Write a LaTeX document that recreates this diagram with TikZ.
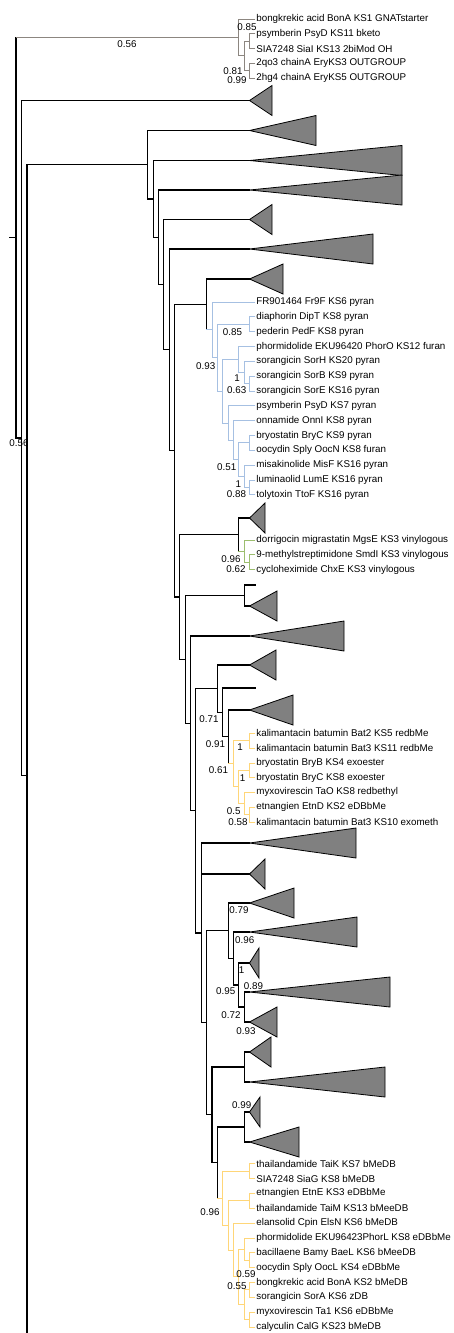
\documentclass[tikz,border=0pt]{standalone}
\usepackage{fontspec}
\setmainfont{Liberation Sans}
\usetikzlibrary{calc}
\definecolor{ogline}{RGB}{140,134,128}
\definecolor{pyranblue}{RGB}{166,192,226}
\definecolor{vinylgreen}{RGB}{156,190,110}
\definecolor{dbyellow}{RGB}{255,214,120}
\definecolor{cladegray}{RGB}{128,128,128}
\tikzset{
  treefig/.style={x=1pt,y=-1pt,line cap=rect,
    every node/.style={font=\fontsize{9.8}{11}\selectfont}},
  leaf/.style={anchor=west,inner xsep=1.2pt,inner ysep=0pt},
  supp/.style={inner sep=0pt},
  branch/.style={draw=black,line width=1.1pt},
  ogbranch/.style={draw=ogline,line width=0.9pt},
  bluebranch/.style={draw=pyranblue,line width=0.9pt},
  greenbranch/.style={draw=vinylgreen,line width=0.9pt},
  yelbranch/.style={draw=dbyellow,line width=0.9pt},
  clade/.style={draw=black,fill=cladegray,line width=0.8pt,line join=miter},
}
\newcommand{\cladetri}[2]{\draw[clade] (#1) -- ++(#2,-15) -- ++(0,30) -- cycle;}

\begin{document}
\begin{tikzpicture}[treefig]
  \useasboundingbox (0,0) rectangle (454,1333);

  % backbone
  \coordinate (root) at (10,237.7);
  \coordinate (nA) at (16,237.7);
  \coordinate (nB) at (21.3,438);
  \coordinate (nC) at (27,775.5);
  \coordinate (cbot) at (27,1333);
  \draw[branch] (root) -- (nA);
  \draw[branch] (nA) |- (nB);
  \draw[branch] (nB) |- (nC);
  \draw[branch] (nC) -- (cbot);

  % outgroup
  \coordinate (og1) at (238.8,37.4);
  \coordinate (og2) at (244.1,55.9);
  \coordinate (ogp1) at (249.5,41.1);
  \coordinate (ogp2) at (249.5,70.6);
  \node[leaf] (bonks1) at (255,19) {bongkrekic acid BonA KS1 GNATstarter};
  \node[leaf] (psyks11) at (255,33.7) {psymberin PsyD KS11 bketo};
  \node[leaf] (siaks13) at (255,48.5) {SIA7248 SiaI KS13 2biMod OH};
  \node[leaf] (eryks3) at (255,63.2) {2qo3 chainA EryKS3 OUTGROUP};
  \node[leaf] (eryks5) at (255,78) {2hg4 chainA EryKS5 OUTGROUP};
  \draw[branch] (nA) -- (nA |- og1);
  \draw[ogbranch] (nA |- og1) -- (og1);
  \draw[ogbranch] (og1) |- (bonks1.west);
  \draw[ogbranch] (og1) |- (og2);
  \draw[ogbranch] (og2) |- (ogp1);
  \draw[ogbranch] (og2) |- (ogp2);
  \draw[ogbranch] (ogp1) |- (psyks11.west);
  \draw[ogbranch] (ogp1) |- (siaks13.west);
  \draw[ogbranch] (ogp2) |- (eryks3.west);
  \draw[ogbranch] (ogp2) |- (eryks5.west);

  % ladder down to the pyran clade
  \coordinate (t0) at (249.5,100.5);
  \coordinate (nD) at (147.8,164.7);
  \coordinate (t1) at (249.5,130.5);
  \coordinate (nE) at (153.1,199);
  \coordinate (t2) at (249.5,160.5);
  \coordinate (nF) at (158.5,237.4);
  \coordinate (t3) at (249.5,190);
  \coordinate (nG) at (163.8,284.7);
  \coordinate (t4) at (249.5,219.5);
  \coordinate (nH) at (169.2,349.9);
  \coordinate (t5) at (249.5,249);
  \coordinate (nI) at (174.5,450.7);
  \coordinate (nJ) at (206.6,304.5);
  \coordinate (t6) at (249.5,279);
  \draw[branch] (nB) |- (t0);
  \draw[branch] (nC) |- (nD);
  \draw[branch] (nD) |- (t1);
  \draw[branch] (nD) |- (nE);
  \draw[branch] (nE) |- (t2);
  \draw[branch] (nE) |- (nF);
  \draw[branch] (nF) |- (t3);
  \draw[branch] (nF) |- (nG);
  \draw[branch] (nG) |- (t4);
  \draw[branch] (nG) |- (nH);
  \draw[branch] (nH) |- (t5);
  \draw[branch] (nH) |- (nI);
  \draw[branch] (nI) |- (nJ);
  \draw[branch] (nJ) |- (t6);

  % pyran clade
  \coordinate (bL) at (212,329.9);
  \coordinate (bM) at (217.4,357.8);
  \coordinate (bY) at (222.7,391.2);
  \coordinate (bDP) at (249.5,324.3);
  \coordinate (bPO) at (238.8,359.5);
  \coordinate (bSH) at (244.1,372.5);
  \coordinate (bSBE) at (249.5,383.6);
  \coordinate (bP) at (228.1,423);
  \coordinate (bQ) at (233.4,440.1);
  \coordinate (bR) at (238.8,459.6);
  \coordinate (bS) at (244.1,476.3);
  \coordinate (bBO) at (249.5,442.9);
  \coordinate (bLT) at (249.5,487.4);
  \node[leaf] (fr9f) at (255,302) {FR901464 Fr9F KS6 pyran};
  \node[leaf] (dipt) at (255,316.8) {diaphorin DipT KS8 pyran};
  \node[leaf] (pedf) at (255,331.7) {pederin PedF KS8 pyran};
  \node[leaf] (phoro) at (255,346.5) {phormidolide EKU96420 PhorO KS12 furan};
  \node[leaf] (sorh) at (255,361.3) {sorangicin SorH KS20 pyran};
  \node[leaf] (sorb) at (255,376.2) {sorangicin SorB KS9 pyran};
  \node[leaf] (sore) at (255,391) {sorangicin SorE KS16 pyran};
  \node[leaf] (psyd) at (255,405.8) {psymberin PsyD KS7 pyran};
  \node[leaf] (onni) at (255,420.6) {onnamide OnnI KS8 pyran};
  \node[leaf] (bryc9) at (255,435.5) {bryostatin BryC KS9 pyran};
  \node[leaf] (oocn) at (255,450.3) {oocydin Sply OocN KS8 furan};
  \node[leaf] (misf) at (255,465.2) {misakinolide MisF KS16 pyran};
  \node[leaf] (lume) at (255,480) {luminaolid LumE KS16 pyran};
  \node[leaf] (ttof) at (255,494.8) {tolytoxin TtoF KS16 pyran};
  \draw[branch] (nJ) -- (nJ |- bL);
  \draw[bluebranch] (nJ |- bL) -- (bL);
  \draw[bluebranch] (bL) |- (fr9f.west);
  \draw[bluebranch] (bL) |- (bM);
  \draw[bluebranch] (bM) |- (bDP);
  \draw[bluebranch] (bM) |- (bY);
  \draw[bluebranch] (bDP) |- (dipt.west);
  \draw[bluebranch] (bDP) |- (pedf.west);
  \draw[bluebranch] (bY) |- (bPO);
  \draw[bluebranch] (bY) |- (bP);
  \draw[bluebranch] (bPO) |- (phoro.west);
  \draw[bluebranch] (bPO) |- (bSH);
  \draw[bluebranch] (bSH) |- (sorh.west);
  \draw[bluebranch] (bSH) |- (bSBE);
  \draw[bluebranch] (bSBE) |- (sorb.west);
  \draw[bluebranch] (bSBE) |- (sore.west);
  \draw[bluebranch] (bP) |- (psyd.west);
  \draw[bluebranch] (bP) |- (bQ);
  \draw[bluebranch] (bQ) |- (onni.west);
  \draw[bluebranch] (bQ) |- (bR);
  \draw[bluebranch] (bR) |- (bBO);
  \draw[bluebranch] (bR) |- (bS);
  \draw[bluebranch] (bBO) |- (bryc9.west);
  \draw[bluebranch] (bBO) |- (oocn.west);
  \draw[bluebranch] (bS) |- (misf.west);
  \draw[bluebranch] (bS) |- (bLT);
  \draw[bluebranch] (bLT) |- (lume.west);
  \draw[bluebranch] (bLT) |- (ttof.west);

  % vinylogous clade and the ladder below it
  \coordinate (nK) at (179.9,597);
  \coordinate (nGR) at (238.8,534.5);
  \coordinate (t7) at (249.5,518);
  \coordinate (gN) at (244.1,551);
  \coordinate (gP) at (249.5,562.1);
  \node[leaf] (mgse) at (255,540) {dorrigocin migrastatin MgsE KS3 vinylogous};
  \node[leaf] (smdi) at (255,554.7) {9-methylstreptimidone SmdI KS3 vinylogous};
  \node[leaf] (chxe) at (255,569.5) {cycloheximide ChxE KS3 vinylogous};
  \draw[branch] (nI) |- (nK);
  \draw[branch] (nK) |- (nGR);
  \draw[branch] (nGR) |- (t7);
  \draw[branch] (nGR) -- (nGR |- gN);
  \draw[greenbranch] (nGR |- gN) -- (gN);
  \draw[greenbranch] (gN) |- (mgse.west);
  \draw[greenbranch] (gN) |- (gP);
  \draw[greenbranch] (gP) |- (smdi.west);
  \draw[greenbranch] (gP) |- (chxe.west);

  \coordinate (nL2) at (185.2,659.5);
  \coordinate (nT8) at (244.1,595.5);
  \coordinate (bare1) at (255,585);
  \coordinate (t8) at (249.5,606);
  \coordinate (nM2) at (190.6,723.4);
  \coordinate (t9) at (249.5,636);
  \coordinate (nN2) at (195.9,810.8);
  \coordinate (nP2) at (217.4,688.7);
  \coordinate (t10) at (249.5,665);
  \coordinate (nQ2) at (222.7,712.4);
  \coordinate (bare2) at (255,688);
  \coordinate (nR2) at (228.1,736.9);
  \coordinate (t11) at (249.5,710);
  \draw[branch] (nK) |- (nL2);
  \draw[branch] (nL2) |- (nT8);
  \draw[branch] (nT8) |- (bare1);
  \draw[branch] (nT8) |- (t8);
  \draw[branch] (nL2) |- (nM2);
  \draw[branch] (nM2) |- (t9);
  \draw[branch] (nM2) |- (nN2);
  \draw[branch] (nN2) |- (nP2);
  \draw[branch] (nP2) |- (t10);
  \draw[branch] (nP2) |- (nQ2);
  \draw[branch] (nQ2) |- (bare2);
  \draw[branch] (nQ2) |- (nR2);
  \draw[branch] (nR2) |- (t11);

  % first reduced clade
  \coordinate (y1) at (233.4,763.7);
  \coordinate (y2) at (238.8,786.8);
  \coordinate (y3) at (244.1,803.4);
  \coordinate (ykal) at (249.5,740.5);
  \coordinate (ybry) at (249.5,770.2);
  \coordinate (yetn) at (249.5,814.5);
  \node[leaf] (bat2) at (255,733) {kalimantacin batumin Bat2 KS5 redbMe};
  \node[leaf] (bat3a) at (255,748) {kalimantacin batumin Bat3 KS11 redbMe};
  \node[leaf] (bryb) at (255,763) {bryostatin BryB KS4 exoester};
  \node[leaf] (bryc8) at (255,777.5) {bryostatin BryC KS8 exoester};
  \node[leaf] (tao) at (255,792.3) {myxovirescin TaO KS8 redbethyl};
  \node[leaf] (etnd) at (255,807) {etnangien EtnD KS2 eDBbMe};
  \node[leaf] (bat3b) at (255,822) {kalimantacin batumin Bat3 KS10 exometh};
  \draw[branch] (nR2) -- (nR2 |- y1);
  \draw[yelbranch] (nR2 |- y1) -- (y1);
  \draw[yelbranch] (y1) |- (ykal);
  \draw[yelbranch] (y1) |- (y2);
  \draw[yelbranch] (ykal) |- (bat2.west);
  \draw[yelbranch] (ykal) |- (bat3a.west);
  \draw[yelbranch] (y2) |- (ybry);
  \draw[yelbranch] (y2) |- (y3);
  \draw[yelbranch] (ybry) |- (bryb.west);
  \draw[yelbranch] (ybry) |- (bryc8.west);
  \draw[yelbranch] (y3) |- (tao.west);
  \draw[yelbranch] (y3) |- (yetn);
  \draw[yelbranch] (yetn) |- (etnd.west);
  \draw[yelbranch] (yetn) |- (bat3b.west);

  % lower ladder
  \coordinate (nS2) at (201.3,933);
  \coordinate (t12) at (249.5,843);
  \coordinate (t13) at (249.5,874);
  \coordinate (nU) at (206.6,1022.8);
  \coordinate (nV) at (228.1,930.8);
  \coordinate (t14) at (249.5,903);
  \coordinate (nV2) at (233.4,958.5);
  \coordinate (t15) at (249.5,932);
  \coordinate (nV3) at (238.8,985);
  \coordinate (t16) at (249.5,963);
  \coordinate (nV4) at (244.1,1007);
  \coordinate (t17) at (249.5,992);
  \coordinate (t18) at (249.5,1022);
  \coordinate (nX3) at (212,1114.8);
  \coordinate (nX1) at (244.1,1067);
  \coordinate (t19) at (249.5,1052);
  \coordinate (t20) at (249.5,1082);
  \coordinate (nW) at (217.4,1162.7);
  \coordinate (nX2) at (244.1,1127);
  \coordinate (t21) at (249.5,1112);
  \coordinate (t22) at (249.5,1142);
  \draw[branch] (nN2) |- (nS2);
  \draw[branch] (nS2) |- (t12);
  \draw[branch] (nS2) |- (t13);
  \draw[branch] (nS2) |- (nU);
  \draw[branch] (nU) |- (nV);
  \draw[branch] (nV) |- (t14);
  \draw[branch] (nV) |- (nV2);
  \draw[branch] (nV2) |- (t15);
  \draw[branch] (nV2) |- (nV3);
  \draw[branch] (nV3) |- (t16);
  \draw[branch] (nV3) |- (nV4);
  \draw[branch] (nV4) |- (t17);
  \draw[branch] (nV4) |- (t18);
  \draw[branch] (nU) |- (nX3);
  \draw[branch] (nX3) |- (nX1);
  \draw[branch] (nX1) |- (t19);
  \draw[branch] (nX1) |- (t20);
  \draw[branch] (nX3) |- (nW);
  \draw[branch] (nW) |- (nX2);
  \draw[branch] (nX2) |- (t21);
  \draw[branch] (nX2) |- (t22);

  % second reduced clade
  \coordinate (z1) at (222.7,1198.3);
  \coordinate (z2) at (228.1,1225.4);
  \coordinate (z3) at (233.4,1250);
  \coordinate (z4) at (238.8,1276.9);
  \coordinate (zA) at (249.5,1171.2);
  \coordinate (zB) at (249.5,1200.9);
  \coordinate (zPL) at (244.1,1249.1);
  \coordinate (zBO) at (249.5,1260.2);
  \coordinate (zBT) at (244.1,1304.7);
  \coordinate (zBS) at (249.5,1289.9);
  \coordinate (zTC) at (249.5,1319.6);
  \node[leaf] (taik) at (255,1163.8) {thailandamide TaiK KS7 bMeDB};
  \node[leaf] (siag) at (255,1178.6) {SIA7248 SiaG KS8 bMeDB};
  \node[leaf] (etne) at (255,1193.4) {etnangien EtnE KS3 eDBbMe};
  \node[leaf] (taim) at (255,1208.3) {thailandamide TaiM KS13 bMeeDB};
  \node[leaf] (elsn) at (255,1223.1) {elansolid Cpin ElsN KS6 bMeDB};
  \node[leaf] (phorl) at (255,1238) {phormidolide EKU96423PhorL KS8 eDBbMe};
  \node[leaf] (bael) at (255,1252.8) {bacillaene Bamy BaeL KS6 bMeeDB};
  \node[leaf] (oocl) at (255,1267.6) {oocydin Sply OocL KS4 eDBbMe};
  \node[leaf] (bona) at (255,1282.5) {bongkrekic acid BonA KS2 bMeDB};
  \node[leaf] (sora) at (255,1297.3) {sorangicin SorA KS6 zDB};
  \node[leaf] (ta1) at (255,1312.1) {myxovirescin Ta1 KS6 eDBbMe};
  \node[leaf] (calg) at (255,1327) {calyculin CalG KS23 bMeDB};
  \draw[branch] (nW) -- (nW |- z1);
  \draw[yelbranch] (nW |- z1) -- (z1);
  \draw[yelbranch] (z1) |- (zA);
  \draw[yelbranch] (z1) |- (z2);
  \draw[yelbranch] (zA) |- (taik.west);
  \draw[yelbranch] (zA) |- (siag.west);
  \draw[yelbranch] (z2) |- (zB);
  \draw[yelbranch] (z2) |- (z3);
  \draw[yelbranch] (zB) |- (etne.west);
  \draw[yelbranch] (zB) |- (taim.west);
  \draw[yelbranch] (z3) |- (elsn.west);
  \draw[yelbranch] (z3) |- (z4);
  \draw[yelbranch] (z4) |- (zPL);
  \draw[yelbranch] (z4) |- (zBT);
  \draw[yelbranch] (zPL) |- (phorl.west);
  \draw[yelbranch] (zPL) |- (zBO);
  \draw[yelbranch] (zBO) |- (bael.west);
  \draw[yelbranch] (zBO) |- (oocl.west);
  \draw[yelbranch] (zBT) |- (zBS);
  \draw[yelbranch] (zBT) |- (zTC);
  \draw[yelbranch] (zBS) |- (bona.west);
  \draw[yelbranch] (zBS) |- (sora.west);
  \draw[yelbranch] (zTC) |- (ta1.west);
  \draw[yelbranch] (zTC) |- (calg.west);

  % collapsed clades
  \cladetri{t0}{22.5}
  \cladetri{t1}{66.5}
  \cladetri{t2}{152.5}
  \cladetri{t3}{152.5}
  \cladetri{t4}{22.5}
  \cladetri{t5}{123.5}
  \cladetri{t6}{33.5}
  \cladetri{t7}{15.5}
  \cladetri{t8}{27.5}
  \cladetri{t9}{94.5}
  \cladetri{t10}{26.5}
  \cladetri{t11}{43.5}
  \cladetri{t12}{106.5}
  \cladetri{t13}{15.5}
  \cladetri{t14}{44.5}
  \cladetri{t15}{107.5}
  \cladetri{t16}{9.5}
  \cladetri{t17}{140.5}
  \cladetri{t18}{27.5}
  \cladetri{t19}{21.5}
  \cladetri{t20}{135.5}
  \cladetri{t21}{10.5}
  \cladetri{t22}{49.5}

  % support values
  \node[supp] (s01) at (127,44) {0.56};
  \node[supp] (s02) at (247,27) {0.85};
  \node[supp] (s03) at (233,71) {0.81};
  \node[supp] (s04) at (237,80) {0.99};
  \node[supp] (s05) at (19,443) {0.56};
  \node[supp] (s06) at (232.5,332) {0.85};
  \node[supp] (s07) at (205.7,366) {0.93};
  \node[supp] (s08) at (237,378) {1};
  \node[supp] (s09) at (236.7,390.5) {0.63};
  \node[supp] (s10) at (226.7,466.7) {0.51};
  \node[supp] (s11) at (238.3,484) {1};
  \node[supp] (s12) at (236.5,494) {0.88};
  \node[supp] (s13) at (231,559.3) {0.96};
  \node[supp] (s14) at (236,569) {0.62};
  \node[supp] (s15) at (209,719) {0.71};
  \node[supp] (s16) at (215.5,744) {0.91};
  \node[supp] (s17) at (240,747) {1};
  \node[supp] (s18) at (218.5,770) {0.61};
  \node[supp] (s19) at (242.7,778) {1};
  \node[supp] (s20) at (233.7,810.7) {0.5};
  \node[supp] (s21) at (238,822) {0.58};
  \node[supp] (s22) at (239,910) {0.79};
  \node[supp] (s23) at (244.7,940) {0.96};
  \node[supp] (s24) at (241.7,970) {1};
  \node[supp] (s25) at (253.5,986) {0.89};
  \node[supp] (s26) at (225.7,990.7) {0.95};
  \node[supp] (s27) at (231,1015) {0.72};
  \node[supp] (s28) at (246,1030.7) {0.93};
  \node[supp] (s29) at (241.7,1105) {0.99};
  \node[supp] (s30) at (210,1211.7) {0.96};
  \node[supp] (s31) at (246,1274) {0.59};
  \node[supp] (s32) at (237,1286) {0.55};
\end{tikzpicture}
\end{document}
